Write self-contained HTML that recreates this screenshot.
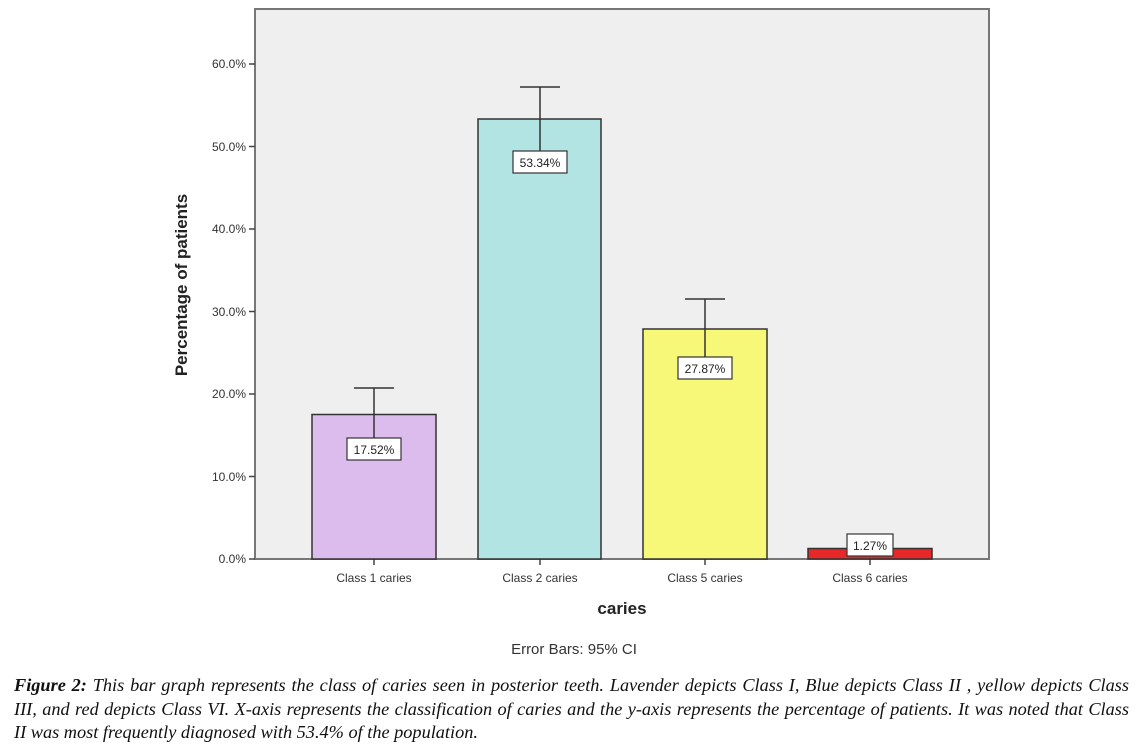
<!DOCTYPE html>
<html><head><style>
body{margin:0;background:#fff;width:1142px;height:749px;overflow:hidden;position:relative}
.cap{position:absolute;left:14px;top:674px;width:1115px;font-family:"Liberation Serif",serif;font-style:italic;font-size:18.3px;line-height:23.5px;color:#111;white-space:nowrap}
.cap div.j{text-align:justify;text-align-last:justify}
</style></head><body>
<svg width="1142" height="670" style="position:absolute;left:0;top:0" font-family="Liberation Sans, sans-serif">
<rect x="255" y="9" width="734" height="550" fill="#efefef" stroke="#777" stroke-width="2"/>
<g stroke="#444" stroke-width="1.5">
<line x1="249" y1="64" x2="255" y2="64"/><line x1="249" y1="146.5" x2="255" y2="146.5"/><line x1="249" y1="229" x2="255" y2="229"/><line x1="249" y1="311.5" x2="255" y2="311.5"/><line x1="249" y1="394" x2="255" y2="394"/><line x1="249" y1="476.5" x2="255" y2="476.5"/><line x1="249" y1="559" x2="255" y2="559"/>
<line x1="374" y1="559" x2="374" y2="565"/><line x1="540" y1="559" x2="540" y2="565"/><line x1="705" y1="559" x2="705" y2="565"/><line x1="870" y1="559" x2="870" y2="565"/>
</g>
<g font-size="12" fill="#333" text-anchor="end">
<text x="246" y="68">60.0%</text><text x="246" y="151">50.0%</text><text x="246" y="233">40.0%</text><text x="246" y="316">30.0%</text><text x="246" y="398">20.0%</text><text x="246" y="481">10.0%</text><text x="246" y="563">0.0%</text>
</g>
<text transform="translate(187,285) rotate(-90)" text-anchor="middle" font-size="17" font-weight="bold" fill="#222">Percentage of patients</text>
<g stroke="#333" stroke-width="1.5">
<rect x="312" y="414.5" width="124" height="144.5" fill="#dcbcec"/>
<rect x="478" y="119" width="123" height="440" fill="#b2e4e4"/>
<rect x="643" y="329" width="124" height="230" fill="#f8f878"/>
<rect x="808" y="548.5" width="124" height="10.5" fill="#e82828"/>
<line x1="374" y1="388" x2="374" y2="414"/><line x1="354" y1="388" x2="394" y2="388"/>
<line x1="540" y1="87" x2="540" y2="119"/><line x1="520" y1="87" x2="560" y2="87"/>
<line x1="705" y1="299" x2="705" y2="329"/><line x1="685" y1="299" x2="725" y2="299"/>
<line x1="374" y1="414" x2="374" y2="438"/><line x1="540" y1="119" x2="540" y2="151"/><line x1="705" y1="329" x2="705" y2="357"/>
</g>
<g stroke="#333" stroke-width="1.2" fill="#fff">
<rect x="347" y="438" width="54" height="22"/><rect x="513" y="151" width="54" height="22"/><rect x="678" y="357" width="54" height="22"/><rect x="847" y="534" width="46" height="22"/>
</g>
<g font-size="12" fill="#222" text-anchor="middle">
<text x="374" y="454">17.52%</text><text x="540" y="167">53.34%</text><text x="705" y="373">27.87%</text><text x="870" y="550">1.27%</text>
</g>
<g font-size="12" fill="#333" text-anchor="middle">
<text x="374" y="582">Class 1 caries</text><text x="540" y="582">Class 2 caries</text><text x="705" y="582">Class 5 caries</text><text x="870" y="582">Class 6 caries</text>
</g>
<text x="622" y="614" text-anchor="middle" font-size="17" font-weight="bold" fill="#222">caries</text>
<text x="574" y="654" text-anchor="middle" font-size="15" fill="#333">Error Bars: 95% CI</text>
</svg>
<div class="cap"><div class="j"><b>Figure 2:</b> This bar graph represents the class of caries seen in posterior teeth. Lavender depicts Class I, Blue depicts Class II , yellow depicts Class</div><div class="j">III, and red depicts Class VI. X-axis represents the classification of caries and the y-axis represents the percentage of patients. It was noted that Class</div><div>II was most frequently diagnosed with 53.4% of the population.</div></div>
</body></html>
